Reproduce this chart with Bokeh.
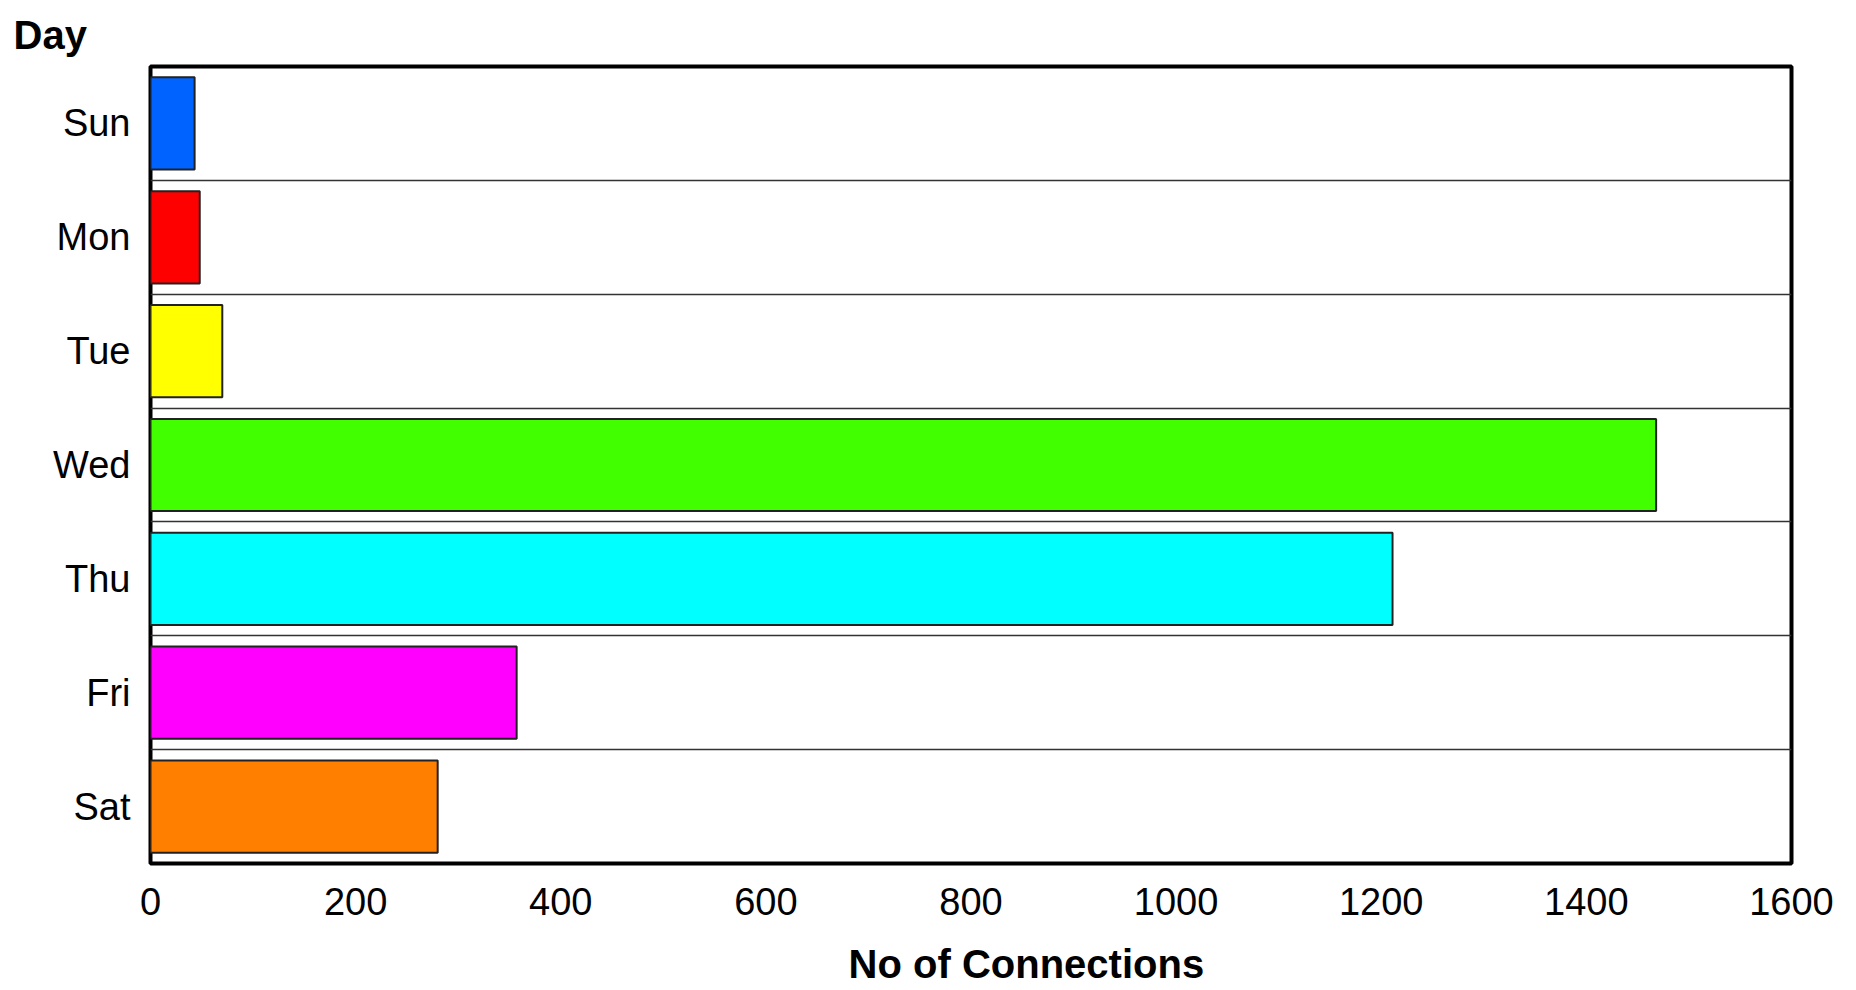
from bokeh.plotting import figure
from bokeh.models import FactorRange, Range1d, FixedTicker, Title, LinearAxis
from bokeh.embed import file_html
from bokeh.resources import INLINE

days = ["Sun", "Mon", "Tue", "Wed", "Thu", "Fri", "Sat"]
connections = [43, 48, 70, 1468, 1211, 357, 280]
colors = ["#0062ff", "#ff0000", "#ffff00", "#42ff00", "#00ffff", "#ff00ff", "#ff8000"]
x_ticks = [0, 200, 400, 600, 800, 1000, 1200, 1400, 1600]
x_title = "No of Connections"
x_title_pos = 854  # title is centred a little right of the plot's centre
y_title = "Day"

FONT = "Liberation Sans"

p = figure(
    width=1840, height=990,
    y_range=FactorRange(factors=list(reversed(days)), range_padding=0, factor_padding=0),
    x_range=Range1d(0, 1600),
    output_backend="svg", toolbar_location=None,
    min_border_left=150, min_border_right=49, min_border_top=66, min_border_bottom=127,
)

p.hbar(y=days, right=connections, left=0, height=0.81, fill_color=colors,
       line_color="#222222", line_width=2)

# separators between categories (synthetic coordinates)
p.hspan(y=[1, 2, 3, 4, 5, 6], line_color="#333333", line_width=1.6)

p.outline_line_color = "black"
p.outline_line_width = 4
p.xgrid.grid_line_color = None
p.ygrid.grid_line_color = None

p.xaxis.ticker = FixedTicker(ticks=x_ticks)
for ax in (p.xaxis[0], p.yaxis[0]):
    ax.axis_line_color = None
    ax.major_tick_line_color = None
    ax.minor_tick_line_color = None
    ax.major_tick_out = 0
    ax.major_tick_in = 0
    ax.major_label_text_font = FONT
    ax.major_label_text_font_size = "38px"
    ax.major_label_text_color = "black"
p.xaxis.major_label_standoff = 24
p.yaxis.major_label_standoff = 20

# x-axis title as a second, tick-less axis below the first
title_axis = LinearAxis(
    ticker=FixedTicker(ticks=[x_title_pos]),
    major_label_overrides={x_title_pos: x_title},
    axis_line_color=None, major_tick_line_color=None, minor_tick_line_color=None,
    major_tick_out=0, major_tick_in=0, major_label_standoff=24,
    major_label_text_font=FONT, major_label_text_font_size="40px",
    major_label_text_font_style="bold", major_label_text_color="black",
)
p.add_layout(title_axis, "below")

p.title = Title(text=y_title, align="left", offset=-137, standoff=19,
                vertical_align="bottom",
                text_font=FONT, text_font_size="40px", text_font_style="bold",
                text_color="black")

open("out.html", "w").write(file_html(p, INLINE))
